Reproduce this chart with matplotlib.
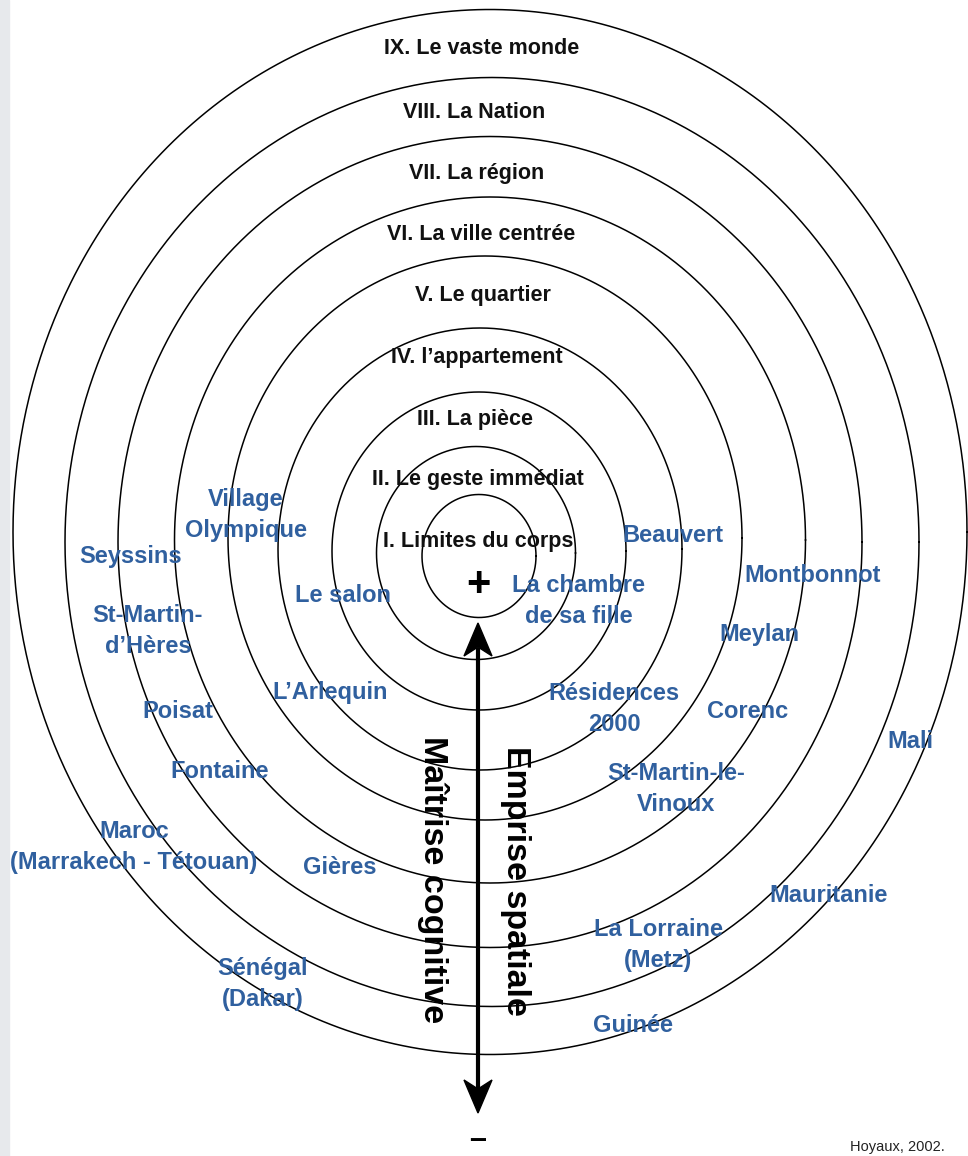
import numpy as np
import matplotlib.pyplot as plt
from matplotlib.patches import Rectangle, Polygon

plt.rcParams['font.family'] = ['Liberation Sans', 'DejaVu Sans']

# ---- content -------------------------------------------------------------
ring_labels = ["I. Limites du corps", "II. Le geste immédiat", "III. La pièce",
               "IV. l\u2019appartement", "V. Le quartier", "VI. La ville centrée",
               "VII. La région", "VIII. La Nation", "IX. Le vaste monde"]

places = ["Village\nOlympique", "Seyssins", "St-Martin-\nd\u2019Hères", "Le salon",
          "L\u2019Arlequin", "Poisat", "Fontaine", "Maroc\n(Marrakech - Tétouan)",
          "Gières", "Sénégal\n(Dakar)", "Beauvert", "La chambre\nde sa fille",
          "Montbonnot", "Meylan", "Résidences\n2000", "Corenc", "Mali",
          "St-Martin-le-\nVinoux", "Mauritanie", "La Lorraine\n(Metz)", "Guinée"]

axis_left = "Maîtrise cognitive"
axis_right = "Emprise spatiale"
source = "Hoyaux, 2002."

# ---- layout (pixel space, y down) ---------------------------------------
ring_cx = [479, 476, 479, 480, 485, 490, 490, 492, 490]
ring_cy = [556, 553, 551, 549, 538, 540, 542, 542, 532]
ring_w = [114, 199, 294, 404, 514, 631, 744, 854, 954]
ring_h = [123, 213, 318, 442, 564, 686, 811, 929, 1045]
ring_lab_xy = [(478, 542), (478, 480), (475, 419), (477, 357), (483, 296),
               (481, 235), (477, 173), (474, 112), (482, 49)]

place_xy = [(246, 515), (131, 556), (148, 631), (343, 595), (330, 692),
            (178, 712), (220, 771), (134, 847), (340, 868), (263, 984),
            (673, 536), (579, 601), (813, 576), (759, 635), (614, 709),
            (748, 712), (910, 741), (676, 789), (829, 896), (658, 945),
            (633, 1025)]

W, H = 968, 1156
blue = '#30609f'

fig = plt.figure(figsize=(W / 100, H / 100), dpi=100)
ax = fig.add_axes([0, 0, 1, 1])
ax.set_xlim(0, W)
ax.set_ylim(H, 0)
ax.axis('off')

ax.add_patch(Rectangle((0, 0), 9, H, color='#e7e9ec', zorder=0))

t = np.linspace(0, 2 * np.pi, 721)
for cx, cy, w, h in zip(ring_cx, ring_cy, ring_w, ring_h):
    ax.plot(cx + w / 2 * np.cos(t), cy + h / 2 * np.sin(t),
            color='black', lw=1.1, zorder=2)

for lab, (x, y) in zip(ring_labels, ring_lab_xy):
    ax.text(x, y, lab, ha='center', va='center', fontsize=15.5,
            fontweight='bold', color='#111111', zorder=3)

for lab, (x, y) in zip(places, place_xy):
    ax.text(x, y, lab, ha='center', va='center', fontsize=17,
            fontweight='bold', color=blue, linespacing=1.4, zorder=3)

# double arrow
ax.plot([478, 478], [648, 1090], color='black', lw=3.0, zorder=4,
        solid_capstyle='butt')
ax.add_patch(Polygon([(478, 623), (464, 656), (478, 647), (492, 656)],
                     closed=True, color='black', zorder=4))
ax.add_patch(Polygon([(478, 1113), (464, 1080), (478, 1089), (492, 1080)],
                     closed=True, color='black', zorder=4))

ax.text(433, 880, axis_left, rotation=-90, ha='center', va='center',
        fontsize=24.5, fontweight='bold', color='black', zorder=3)
ax.text(516, 881, axis_right, rotation=-90, ha='center', va='center',
        fontsize=24.5, fontweight='bold', color='black', zorder=3)

ax.text(478, 585, '+', ha='center', va='center', fontsize=30,
        fontweight='bold', color='black', zorder=3)
ax.text(478, 1155, '\u2013', ha='center', va='bottom', fontsize=22,
        fontweight='bold', color='black', zorder=3)

ax.text(945, 1147, source, ha='right', va='center', fontsize=10.5,
        color='#222222', zorder=3)

fig.savefig('out.png', dpi=100)
